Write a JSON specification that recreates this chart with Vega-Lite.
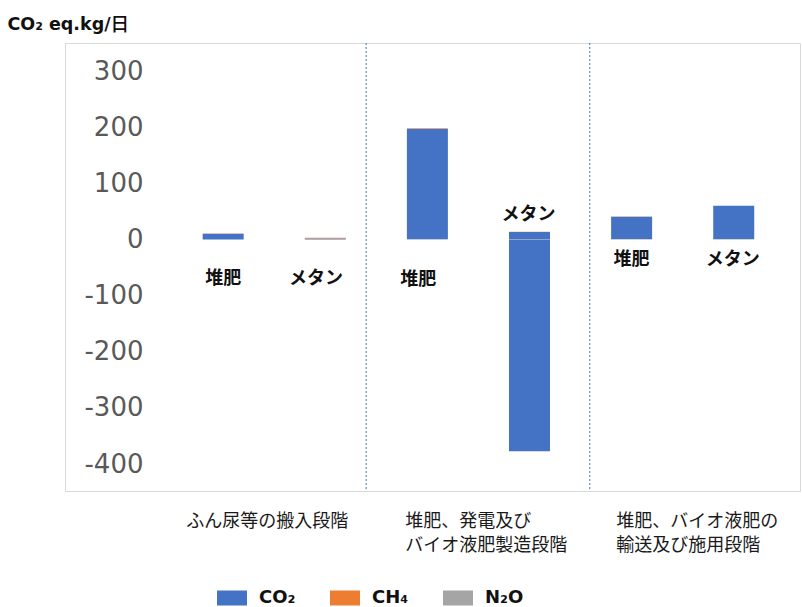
{
  "$schema": "https://vega.github.io/schema/vega-lite/v6.json",
  "autosize": {"type": "none"},
  "width": 735,
  "height": 448,
  "padding": {"left": 65, "top": 43, "right": 2, "bottom": 116},
  "background": "white",
  "config": {
    "view": {"stroke": "#d9d9d9", "strokeWidth": 1},
    "font": "Noto Sans CJK JP"
  },
  "datasets": {
    "bars": [
      {"pos": 1, "bar": "堆肥", "stage": "ふん尿等の搬入段階", "gas": "CO₂", "value": 10},
      {"pos": 1, "bar": "堆肥", "stage": "ふん尿等の搬入段階", "gas": "CH₄", "value": 0.4},
      {"pos": 1, "bar": "堆肥", "stage": "ふん尿等の搬入段階", "gas": "N₂O", "value": 0.2},
      {"pos": 2, "bar": "メタン", "stage": "ふん尿等の搬入段階", "gas": "CO₂", "value": 1.5},
      {"pos": 2, "bar": "メタン", "stage": "ふん尿等の搬入段階", "gas": "CH₄", "value": 1.2},
      {"pos": 2, "bar": "メタン", "stage": "ふん尿等の搬入段階", "gas": "N₂O", "value": 0.2},
      {"pos": 3, "bar": "堆肥", "stage": "堆肥、発電及びバイオ液肥製造段階", "gas": "CO₂", "value": 197},
      {"pos": 3, "bar": "堆肥", "stage": "堆肥、発電及びバイオ液肥製造段階", "gas": "CH₄", "value": 1},
      {"pos": 3, "bar": "堆肥", "stage": "堆肥、発電及びバイオ液肥製造段階", "gas": "N₂O", "value": 0.3},
      {"pos": 4, "bar": "メタン", "stage": "堆肥、発電及びバイオ液肥製造段階", "gas": "CO₂", "value": 13},
      {"pos": 4, "bar": "メタン", "stage": "堆肥、発電及びバイオ液肥製造段階", "gas": "CO₂", "value": -377},
      {"pos": 4, "bar": "メタン", "stage": "堆肥、発電及びバイオ液肥製造段階", "gas": "CH₄", "value": 0.5},
      {"pos": 4, "bar": "メタン", "stage": "堆肥、発電及びバイオ液肥製造段階", "gas": "N₂O", "value": 0.3},
      {"pos": 5, "bar": "堆肥", "stage": "堆肥、バイオ液肥の輸送及び施用段階", "gas": "CO₂", "value": 40},
      {"pos": 5, "bar": "堆肥", "stage": "堆肥、バイオ液肥の輸送及び施用段階", "gas": "CH₄", "value": 0.1},
      {"pos": 5, "bar": "堆肥", "stage": "堆肥、バイオ液肥の輸送及び施用段階", "gas": "N₂O", "value": 0.7},
      {"pos": 6, "bar": "メタン", "stage": "堆肥、バイオ液肥の輸送及び施用段階", "gas": "CO₂", "value": 59},
      {"pos": 6, "bar": "メタン", "stage": "堆肥、バイオ液肥の輸送及び施用段階", "gas": "CH₄", "value": 0.2},
      {"pos": 6, "bar": "メタン", "stage": "堆肥、バイオ液肥の輸送及び施用段階", "gas": "N₂O", "value": 1}
    ],
    "labels": [
      {"pos": 1, "bar": "堆肥", "at": -71},
      {"pos": 1.91, "bar": "メタン", "at": -71},
      {"pos": 2.91, "bar": "堆肥", "at": -73},
      {"pos": 3.99, "bar": "メタン", "at": 44},
      {"pos": 5, "bar": "堆肥", "at": -37},
      {"pos": 5.99, "bar": "メタン", "at": -37}
    ],
    "dividers": [{"pos": 2.4}, {"pos": 4.59}]
  },
  "layer": [
    {
      "data": {"name": "bars"},
      "mark": {"type": "bar", "size": 41},
      "encoding": {
        "x": {
          "field": "pos",
          "type": "quantitative",
          "scale": {"domain": [-0.5, 6.6], "nice": false, "zero": false},
          "axis": {
            "title": null,
            "domain": false,
            "ticks": false,
            "grid": false,
            "values": [0.633, 2.778, 4.845],
            "labelExpr": "datum.value < 2 ? 'ふん尿等の搬入段階' : datum.value < 4 ? ['堆肥、発電及び', 'バイオ液肥製造段階'] : ['堆肥、バイオ液肥の', '輸送及び施用段階']",
            "labelAlign": "left",
            "labelBaseline": "top",
            "labelPadding": 21,
            "labelLineHeight": 24,
            "labelFontSize": 18,
            "labelFont": "Noto Sans CJK JP",
            "labelColor": "#1a1a1a",
            "labelOverlap": false,
            "labelBound": false,
            "labelFlush": false
          }
        },
        "y": {
          "field": "value",
          "type": "quantitative",
          "stack": "zero",
          "scale": {"domain": [-448, 350], "nice": false},
          "axis": {
            "title": "CO₂ eq.kg/日",
            "titleAngle": 0,
            "titleX": -58,
            "titleY": -14,
            "titleAlign": "left",
            "titleBaseline": "alphabetic",
            "titleFont": "DejaVu Sans",
            "titleFontSize": 17.5,
            "titleFontWeight": "bold",
            "titleColor": "#111111",
            "values": [-400, -300, -200, -100, 0, 100, 200, 300],
            "labelExpr": "datum.value < 0 ? '-' + abs(datum.value) : '' + datum.value",
            "domain": false,
            "ticks": false,
            "grid": false,
            "labelAlign": "right",
            "labelPadding": -78,
            "labelFont": "DejaVu Sans",
            "labelFontSize": 26,
            "labelColor": "#595959"
          }
        },
        "color": {
          "field": "gas",
          "type": "nominal",
          "sort": ["CO₂", "CH₄", "N₂O"],
          "scale": {"domain": ["CO₂", "CH₄", "N₂O"], "range": ["#4472C4", "#ED7D31", "#A5A5A5"]},
          "legend": {
            "title": null,
            "orient": "none",
            "direction": "horizontal",
            "legendX": 152,
            "legendY": 540,
            "symbolType": "M-1,-0.5H1V0.5H-1Z",
            "symbolSize": 900,
            "symbolStrokeWidth": 0,
            "labelFont": "DejaVu Sans",
            "labelFontSize": 18,
            "labelFontWeight": "bold",
            "labelColor": "#111111",
            "labelOffset": 12,
            "columnPadding": 34
          }
        }
      }
    },
    {
      "data": {"name": "dividers"},
      "mark": {"type": "rule", "color": "#4472C4", "strokeDash": [2, 2], "strokeWidth": 1},
      "encoding": {"x": {"field": "pos", "type": "quantitative"}}
    },
    {
      "data": {"name": "labels"},
      "mark": {"type": "text", "font": "Noto Sans CJK JP", "fontSize": 18, "fontWeight": "bold", "color": "#111111", "align": "center", "baseline": "middle"},
      "encoding": {
        "x": {"field": "pos", "type": "quantitative"},
        "y": {"field": "at", "type": "quantitative"},
        "text": {"field": "bar"}
      }
    }
  ]
}
